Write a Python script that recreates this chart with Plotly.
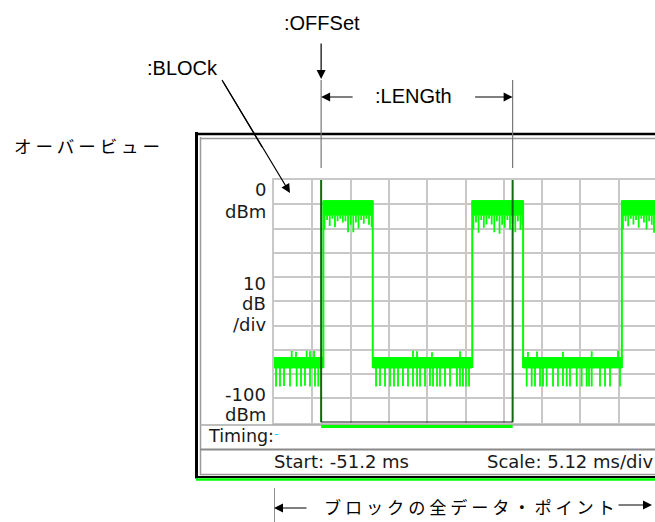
import plotly.graph_objects as go

W, H = 655, 522

# ---------------- data ----------------
sweep_start_ms = -51.2
scale_ms_per_div = 5.12
ref_level_dbm = 0
db_per_div = 10
n_ydiv = 10

offset_ms = -44.9
length_ms = 25.6

burst_start_ms = [-44.6, -24.7, -4.7]
burst_stop_ms = [-38.0, -17.9, 0.0]

high_top_dbm = -8.5
high_floor_dbm = -14.5
low_top_dbm = -73.2
low_floor_dbm = -77.5

high_spike_ms = [-44.45, -44.1, -43.75, -43.4, -43.05, -42.7, -42.35, -42.0, -41.65, -41.3,
                 -40.95, -40.6, -40.25, -39.9, -39.55, -39.2, -38.85, -38.5, -38.15,
                 -24.55, -24.2, -23.85, -23.5, -23.15, -22.8, -22.45, -22.1, -21.75, -21.4,
                 -21.05, -20.7, -20.35, -20.0, -19.65, -19.3, -18.95, -18.6, -18.25, -18.0,
                 -4.55, -4.2, -3.85, -3.5, -3.15, -2.8, -2.45, -2.1, -1.75, -1.4,
                 -1.05, -0.7, -0.4]
high_spike_dbm = [-20.5, -16.5, -19.0, -16.0, -19.5, -17.0, -16.0, -17.5, -17.0, -21.5,
                  -18.5, -21.5, -17.5, -20.0, -16.5, -18.0, -16.0, -18.5, -19.5,
                  -20.4, -17.5, -21.8, -16.5, -19.7, -18.4, -16.0, -18.4, -21.5, -17.0,
                  -22.2, -18.5, -19.7, -16.5, -20.5, -18.0, -21.5, -17.0, -20.5, -18.5,
                  -20.4, -17.0, -19.1, -16.0, -18.4, -16.5, -19.7, -16.0, -17.5, -20.4,
                  -17.0, -18.5, -21.8]

low_dip_ms = [-50.93, -50.40, -49.86, -49.06, -48.17, -47.59, -47.06, -46.39, -45.72, -45.28,
              -37.56, -37.03, -36.36, -35.69, -35.16, -34.62, -33.96, -33.29, -32.62, -32.08,
              -31.68, -31.01, -30.35, -29.94, -29.41, -29.01, -28.34, -27.67, -26.74, -26.34,
              -25.94, -25.54, -25.13,
              -17.42, -16.75, -16.31, -15.64, -15.24, -14.75, -13.90, -13.24, -12.57, -12.07,
              -11.63, -10.73, -10.07, -9.40, -9.09, -8.73, -7.62, -6.95, -6.28, -4.95]
low_dip_dbm = [-85.2, -85.2, -85.0, -85.2, -85.2, -85.2, -84.8, -85.2, -85.2, -85.2,
               -85.2, -85.0, -85.2, -85.2, -85.2, -85.2, -85.0, -85.2, -85.2, -85.2,
               -85.2, -85.2, -85.0, -85.2, -85.2, -85.2, -85.2, -85.2, -85.2, -85.2,
               -85.2, -85.2, -85.2,
               -85.2, -85.2, -85.2, -85.2, -85.2, -85.2, -85.2, -85.2, -85.0, -85.2,
               -85.2, -85.2, -85.2, -85.2, -85.2, -85.2, -85.2, -85.2, -85.2, -85.2]

low_peak_ms = [-48.83, -48.26, -46.83, -46.39, -45.85, -32.62, -32.08, -30.08, -26.34,
               -17.25, -16.04, -12.57, -8.73, -5.21]
low_peak_dbm = [-70.5, -70.8, -70.4, -70.6, -70.5, -70.4, -70.6, -71.0, -70.6,
                -70.9, -70.7, -70.8, -70.6, -70.4]

y_label_texts = ["0", "dBm", "10", "dB", "/div", "-100", "dBm"]
timing_text = "Timing:"
start_text = "Start: -51.2 ms"
scale_text = "Scale: 5.12 ms/div"
offset_label = ":OFFSet"
block_label = ":BLOCk"
length_label = ":LENGth"
overview_label = "オ ー バ ー ビ ュ ー"
allpoints_label = "ブ ロ ッ ク の 全 デ ー タ ・ ポ イ ン ト"

# ---------------- geometry (pixels) ----------------
grid_left, grid_top, grid_bottom, px_per_div = 274, 180, 422.5, 38.3
x_end = sweep_start_ms + (W - grid_left) / px_per_div * scale_ms_per_div


def X(p):
    return p / W


def Y(p):
    return 1 - p / H


GREEN = "#00ff00"
SCREEN_FONT = "DejaVu Sans"
LABEL_FONT = "Liberation Sans, Arial, sans-serif"
JP_FONT = "Noto Sans CJK JP"
SCREEN_TEXT = "#1a1a1a"

fig = go.Figure()


def band_xy(segments, top, floor):
    xs, ys = [], []
    for s, e in segments:
        xs += [s, e, e, s, s, None]
        ys += [top, top, floor, floor, top, None]
    return xs, ys


high_segs = list(zip(burst_start_ms, burst_stop_ms))
low_segs = [(sweep_start_ms, burst_start_ms[0])] + [
    (burst_stop_ms[i], burst_start_ms[i + 1]) for i in range(len(burst_start_ms) - 1)]

for segs, top, floor in [(high_segs, high_top_dbm, high_floor_dbm),
                         (low_segs, low_top_dbm, low_floor_dbm)]:
    bx, by = band_xy(segs, top, floor)
    fig.add_trace(go.Scatter(x=bx, y=by, mode="lines", fill="toself", fillcolor=GREEN,
                             line=dict(color=GREEN, width=1), hoverinfo="skip",
                             showlegend=False))

# edges
ex, ey = [], []
for t in burst_start_ms + burst_stop_ms:
    ex += [t, t, None]
    ey += [low_floor_dbm, high_top_dbm, None]
fig.add_trace(go.Scatter(x=ex, y=ey, mode="lines", line=dict(color=GREEN, width=2),
                         hoverinfo="skip", showlegend=False))

# spikes
sx, sy = [], []
for t, v in zip(high_spike_ms, high_spike_dbm):
    sx += [t, t, None]
    sy += [high_floor_dbm, v, None]
for t, v in zip(low_dip_ms, low_dip_dbm):
    sx += [t, t, None]
    sy += [low_floor_dbm, v, None]
for t, v in zip(low_peak_ms, low_peak_dbm):
    sx += [t, t, None]
    sy += [low_top_dbm, v, None]
fig.add_trace(go.Scatter(x=sx, y=sy, mode="lines", line=dict(color=GREEN, width=1.8),
                         hoverinfo="skip", showlegend=False))

shapes = []


def pline(x0, y0, x1, y1, color, width):
    shapes.append(dict(type="line", xref="paper", yref="paper", x0=X(x0), y0=Y(y0),
                       x1=X(x1), y1=Y(y1), line=dict(color=color, width=width)))


# screen frame
pline(196.5, 132, 196.5, 478.5, "black", 3)
pline(195, 134, W, 134, "black", 2.5)
pline(195, 477, W, 477, "black", 2)
pline(200.5, 137, 200.5, 475, "#9a9a9a", 1.5)
pline(200, 138.5, W, 138.5, "#9a9a9a", 1.5)
pline(200, 474.5, W, 474.5, "#9a9a9a", 1.5)
pline(200, 425, W, 425, "#a8a8a8", 1.5)
pline(200, 449.5, W, 449.5, "#8a8a8a", 2)
pline(196, 479.5, W, 479.5, GREEN, 2.5)

block_end = offset_ms + length_ms
for t in [offset_ms, block_end]:
    shapes.append(dict(type="line", xref="x", yref="y", x0=t, x1=t,
                       y0=-n_ydiv * db_per_div, y1=ref_level_dbm,
                       line=dict(color="#126812", width=2)))
    shapes.append(dict(type="line", xref="x", yref="paper", x0=t, x1=t,
                       y0=Y(168), y1=Y(80), line=dict(color="#777777", width=1.2)))
shapes.append(dict(type="line", xref="x", yref="y", x0=offset_ms, x1=block_end,
                   y0=-n_ydiv * db_per_div, y1=-n_ydiv * db_per_div,
                   line=dict(color="#1c1c1c", width=2)))
shapes.append(dict(type="line", xref="x", yref="paper", x0=offset_ms, x1=block_end,
                   y0=Y(426.5), y1=Y(426.5), line=dict(color=GREEN, width=3)))
shapes.append(dict(type="line", xref="x", yref="paper", x0=sweep_start_ms, x1=sweep_start_ms,
                   y0=Y(488), y1=Y(522), line=dict(color="#444444", width=1.2)))
pline(222, 80, 262, 147, "black", 1.2)

annotations = []


def txt(text, x, y, size, font, xanchor="center", color="black"):
    annotations.append(dict(text=text, xref="paper", yref="paper", x=X(x), y=Y(y),
                            xanchor=xanchor, yanchor="middle", showarrow=False,
                            font=dict(family=font, size=size, color=color)))


y_label_pos = [190, 211, 283, 303.5, 324, 394, 414]
for t, yy in zip(y_label_texts, y_label_pos):
    txt(t, 268, yy, 18, SCREEN_FONT, xanchor="right", color=SCREEN_TEXT)

txt(timing_text, 206, 436, 17.5, SCREEN_FONT, xanchor="left", color=SCREEN_TEXT)
txt("-", 272, 433, 13, SCREEN_FONT, xanchor="left", color="#00d8ff")
txt(start_text, 272, 461, 18, SCREEN_FONT, xanchor="left", color=SCREEN_TEXT)
txt(scale_text, 485, 461, 18, SCREEN_FONT, xanchor="left", color=SCREEN_TEXT)

txt(offset_label, 322, 23, 20, LABEL_FONT)
txt(block_label, 182, 68, 20, LABEL_FONT)
txt(length_label, 413, 96, 20, LABEL_FONT)
txt(overview_label, 12, 146, 17.5, JP_FONT, xanchor="left")
txt(allpoints_label, 469, 506, 17.2, JP_FONT)


def arrow(x, y, ax, ay, xref="paper"):
    annotations.append(dict(text="", x=x, y=Y(y), xref=xref, yref="paper", ax=ax, ay=ay,
                            showarrow=True, arrowhead=2, arrowsize=1.5, arrowwidth=1.2,
                            arrowcolor="black"))


arrow(offset_ms, 79, 0, -37, xref="x")
arrow(offset_ms, 97, 33, 0, xref="x")
arrow(block_end, 97, -39, 0, xref="x")
arrow(X(290), 193, -68, -113)
arrow(sweep_start_ms, 508, 34, 0, xref="x")
arrow(X(652), 505, -35, 0)

fig.update_layout(
    width=W, height=H, margin=dict(l=0, r=0, t=0, b=0),
    paper_bgcolor="white", plot_bgcolor="white",
    shapes=shapes, annotations=annotations, showlegend=False,
    xaxis=dict(domain=[X(grid_left), 1], range=[sweep_start_ms, x_end],
               tick0=sweep_start_ms, dtick=scale_ms_per_div, showticklabels=False,
               ticks="", showgrid=True, gridcolor="#c8c8c8", gridwidth=1.5,
               zeroline=False, showline=True, linecolor="#c8c8c8", linewidth=1.5,
               mirror=True),
    yaxis=dict(domain=[Y(grid_bottom), Y(grid_top)],
               range=[ref_level_dbm - n_ydiv * db_per_div, ref_level_dbm],
               tick0=0, dtick=db_per_div, showticklabels=False, ticks="",
               showgrid=True, gridcolor="#c8c8c8", gridwidth=1.5, zeroline=False,
               showline=True, linecolor="#c8c8c8", linewidth=1.5),
)

fig.write_html("out.html", config={"displayModeBar": False},
               post_script="document.body.style.margin='0';")
